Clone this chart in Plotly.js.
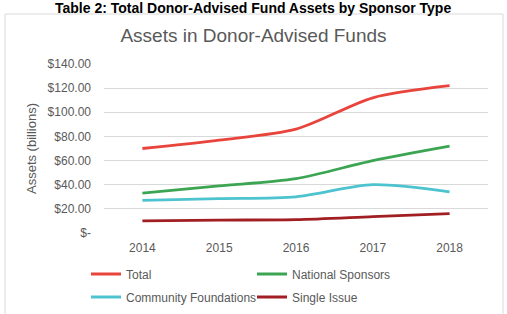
<!DOCTYPE html>
<html>
<head>
<meta charset="utf-8">
<script src="https://cdn.plot.ly/plotly-3.0.1.min.js"></script>
<style>
  html, body { margin: 0; padding: 0; background: #ffffff; }
  #chart { width: 507px; height: 314px; }
</style>
</head>
<body>
<div id="chart"></div>
<script>
// Years on the category axis
const years = ['2014', '2015', '2016', '2017', '2018'];

// Assets held in donor-advised funds, billions of dollars
const totalAssets = [70, 77, 86, 112, 122];
const nationalSponsors = [33, 39, 45, 60, 72];
const communityFoundations = [27, 28.5, 30, 40, 34];
const singleIssue = [10, 10.7, 11, 13.5, 16];

// Y axis ticks in accounting format
const yTickVals = [0, 20, 40, 60, 80, 100, 120, 140];
const yTickText = ['$-', '$20.00', '$40.00', '$60.00', '$80.00', '$100.00', '$120.00', '$140.00'];

const seriesNames = ['Total', 'National Sponsors', 'Community Foundations', 'Single Issue'];
const seriesValues = [totalAssets, nationalSponsors, communityFoundations, singleIssue];
const seriesColors = ['#E8443C', '#3BA552', '#4CC3CF', '#A11F22'];
// two legend rows of two entries each
const seriesLegend = ['legend', 'legend', 'legend2', 'legend2'];

const traces = seriesNames.map((name, i) => ({
  type: 'scatter',
  mode: 'lines',
  name: name,
  x: years,
  y: seriesValues[i],
  legend: seriesLegend[i],
  line: { color: seriesColors[i], width: 2.8, shape: 'spline', smoothing: 0.8 },
  hoverinfo: 'x+y+name'
}));

const font = "'Liberation Sans', Arial, sans-serif";
const gray = '#595959';

function legendRow(centerPx) {
  return {
    orientation: 'h',
    x: (86 - 104) / 384,
    xanchor: 'left',
    y: (233 - centerPx) / 169,
    yanchor: 'middle',
    entrywidth: 121,
    entrywidthmode: 'pixels',
    itemwidth: 30,
    font: { family: font, size: 12, color: gray },
    bgcolor: 'rgba(0,0,0,0)'
  };
}

const layout = {
  width: 507,
  height: 314,
  margin: { l: 104, r: 19, t: 64, b: 81, autoexpand: false },
  paper_bgcolor: '#ffffff',
  plot_bgcolor: '#ffffff',
  font: { family: font, color: gray, size: 12 },
  showlegend: true,
  title: {
    text: 'Assets in Donor-Advised Funds',
    font: { family: font, size: 19, color: gray },
    x: 0.5, xanchor: 'center',
    y: 1 - 35 / 314, yanchor: 'middle'
  },
  xaxis: {
    type: 'category',
    range: [-0.5, 4.5],
    showgrid: false,
    showline: false,
    zeroline: false,
    ticks: '',
    ticklabelstandoff: 6,
    tickfont: { family: font, size: 12, color: gray },
    fixedrange: true
  },
  yaxis: {
    range: [0, 140],
    tickvals: yTickVals,
    ticktext: yTickText,
    showgrid: true,
    gridcolor: '#D9D9D9',
    gridwidth: 1,
    zeroline: false,
    showline: false,
    ticks: '',
    ticklabelstandoff: 12,
    tickfont: { family: font, size: 12, color: gray },
    title: { text: 'Assets (billions)', font: { family: font, size: 13, color: gray }, standoff: 8 },
    fixedrange: true
  },
  legend: legendRow(274),
  legend2: legendRow(297),
  shapes: [{
    type: 'rect',
    xref: 'paper', yref: 'paper',
    x0: (5 - 104) / 384, x1: (503 - 104) / 384,
    y0: -0.6, y1: (233 - 14) / 169,
    line: { color: '#D9D9D9', width: 1 },
    fillcolor: 'rgba(0,0,0,0)',
    layer: 'below'
  }],
  annotations: [{
    text: '<b>Table 2: Total Donor-Advised Fund Assets by Sponsor Type</b>',
    xref: 'paper', yref: 'paper',
    x: (253 - 104) / 384, xanchor: 'center',
    y: (233 - 8) / 169, yanchor: 'middle',
    showarrow: false,
    font: { family: font, size: 14, color: '#000000' }
  }]
};

Plotly.newPlot('chart', traces, layout, { displayModeBar: false, staticPlot: true });
</script>
</body>
</html>
